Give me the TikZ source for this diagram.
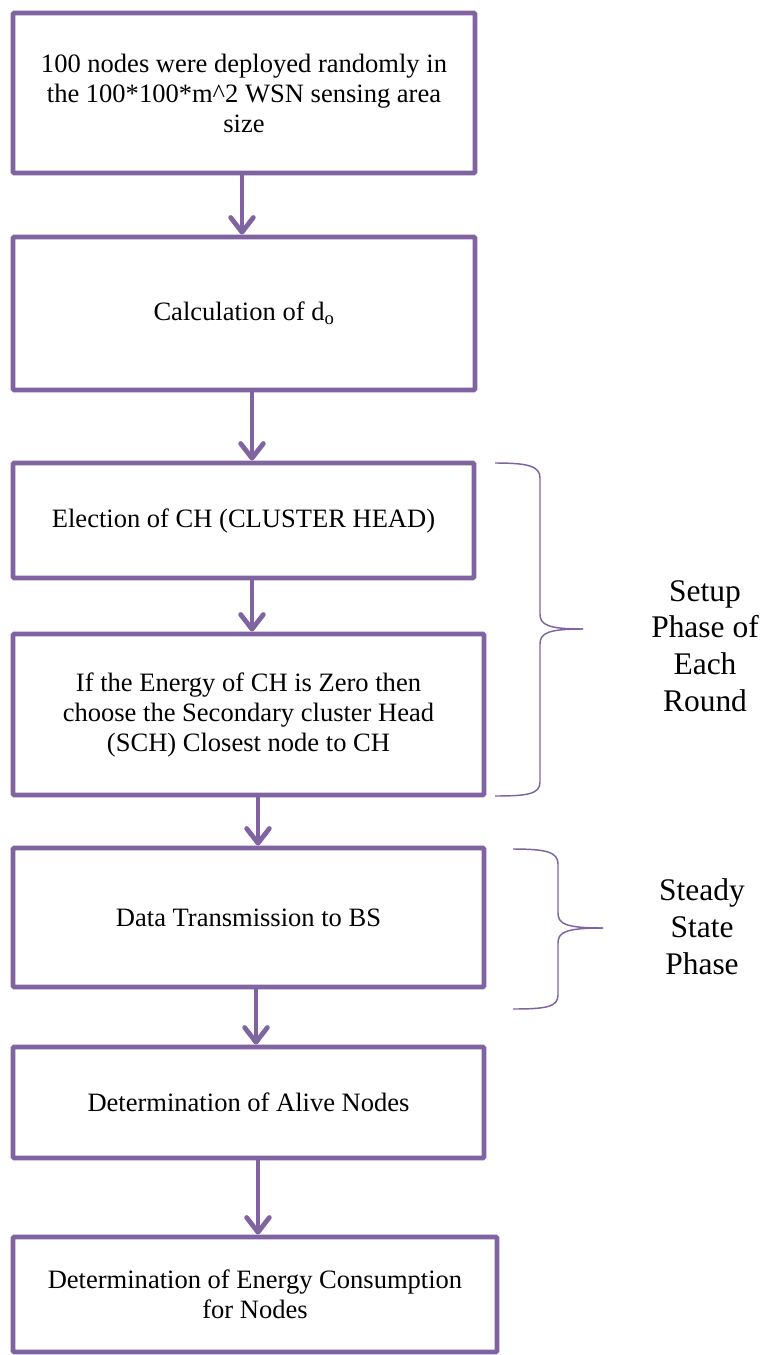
\documentclass[tikz,border=0pt]{standalone}
\usepackage{fontspec}
\setmainfont{Liberation Serif}
\usetikzlibrary{arrows.meta}
\definecolor{flowpurple}{HTML}{8064A2}
\begin{document}
\begin{tikzpicture}[x=0.75pt,y=-0.75pt,
  stepbox/.style={draw=flowpurple, line width=3.6pt, rounded corners=1pt,
    align=center, inner sep=0pt, font=\fontsize{19.9}{22.5}\selectfont},
  flow/.style={draw=flowpurple, line width=3.6pt, line cap=round,
    -{Straight Barb[length=11pt,width=17pt,line cap=round,line join=round]}},
  bracket/.style={draw=flowpurple, line width=1.1pt},
  phase/.style={align=center, font=\fontsize{23.6}{27.6}\selectfont}]
\useasboundingbox (0,0) rectangle (762,1355);
\fill[white] (0,0) rectangle (762,1355);

% process steps
\node[stepbox, minimum width=346.5pt, minimum height=120pt] (b1) at (244,93)
  {100 nodes were deployed randomly in\\the 100*100*m\textasciicircum2 WSN sensing area\\size};
\node[stepbox, minimum width=346.5pt, minimum height=114.75pt] (b2) at (244,313.5)
  {Calculation of d\textsubscript{o}};
\node[stepbox, minimum width=345.75pt, minimum height=86.25pt] (b3) at (243.5,520.5)
  {Election of CH (CLUSTER HEAD)};
\node[stepbox, minimum width=353.25pt, minimum height=120.75pt] (b4) at (248.5,714.5)
  {If the Energy of CH is Zero then\\choose the Secondary cluster Head\\(SCH) Closest node to CH};
\node[stepbox, minimum width=353.25pt, minimum height=104.25pt] (b5) at (248.5,917.5)
  {Data Transmission to BS};
\node[stepbox, minimum width=353.25pt, minimum height=83.25pt] (b6) at (248.5,1102.5)
  {Determination of Alive Nodes};
\node[stepbox, minimum width=363pt, minimum height=86.25pt] (b7) at (255,1294.5)
  {Determination of Energy Consumption\\for Nodes};

% flow arrows
\draw[flow] (b1.south -| 242,0) -- (b2.north -| 242,0);
\draw[flow] (b2.south -| 252,0) -- (b3.north -| 252,0);
\draw[flow] (b3.south -| 252,0) -- (b4.north -| 252,0);
\draw[flow] (b4.south -| 258,0) -- (b5.north -| 258,0);
\draw[flow] (b5.south -| 256,0) -- (b6.north -| 256,0);
\draw[flow] (b6.south -| 258,0) -- (b7.north -| 258,0);

% phase brackets
\draw[bracket] (495,463) .. controls (528,463) and (540,466) .. (540,478) -- (540,614)
  .. controls (540,625) and (548,629) .. (583,629);
\draw[bracket] (583,629) .. controls (548,629) and (540,633) .. (540,644) -- (540,782)
  .. controls (540,794) and (528,796) .. (495,796);
\draw[bracket] (513,849) .. controls (546,849) and (558,852) .. (558,864) -- (558,913)
  .. controls (558,924) and (566,928) .. (603,928);
\draw[bracket] (603,928) .. controls (566,928) and (558,932) .. (558,943) -- (558,995)
  .. controls (558,1007) and (546,1009) .. (513,1009);

% phase labels
\node[phase] (setup) at (705,646) {Setup\\Phase of\\Each\\Round};
\node[phase] (steady) at (702,927) {Steady\\State\\Phase};
\end{tikzpicture}
\end{document}
